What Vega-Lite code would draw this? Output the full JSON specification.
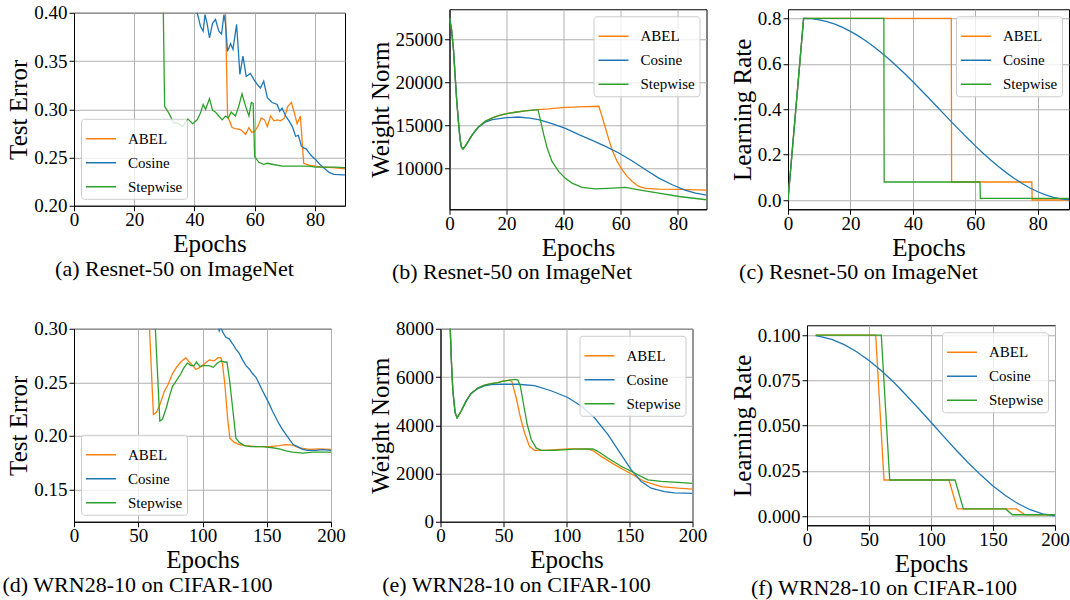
{
"$schema": "https://vega.github.io/schema/vega-lite/v6.json",
"padding": {"left": 1, "top": 3, "right": 0, "bottom": 0},
"background": "white",
"config": {
 "font": "Liberation Serif",
 "view": {"stroke": "black", "strokeWidth": 1},
 "axis": {"labelFont": "Liberation Serif", "labelFontSize": 19, "labelColor": "black", "titleFont": "Liberation Serif", "titleFontSize": 25, "titleFontWeight": "normal", "titleColor": "black", "tickColor": "black", "tickSize": 5, "domainColor": "black", "gridColor": "#b0b0b0", "gridWidth": 1, "labelPadding": 2, "titlePadding": 4, "labelFlush": false, "labelOverlap": false},
 "axisX": {"labelPadding": 0, "titlePadding": 2},
 "axisY": {"titlePadding": 2},
 "legend": {"labelFont": "Liberation Serif", "labelFontSize": 15, "labelColor": "black", "symbolType": "stroke", "symbolSize": 900, "symbolStrokeWidth": 1.5, "labelOffset": 11, "rowPadding": -12, "padding": 4, "strokeColor": "#cccccc", "fillColor": "rgba(255,255,255,0.8)", "cornerRadius": 3, "offset": 7},
 "title": {"font": "Liberation Serif", "fontSize": 22, "fontWeight": "normal", "color": "black", "offset": 2}
},
"datasets": {
 "a": [
  {"s":"ABEL","x":0,"y":0.9},{"s":"ABEL","x":20,"y":0.6},{"s":"ABEL","x":40,"y":0.5},{"s":"ABEL","x":50,"y":0.45},{"s":"ABEL","x":51,"y":0.293},{"s":"ABEL","x":52.5,"y":0.281},{"s":"ABEL","x":53.6,"y":0.28},{"s":"ABEL","x":55.3,"y":0.279},{"s":"ABEL","x":57,"y":0.274},{"s":"ABEL","x":58.1,"y":0.281},{"s":"ABEL","x":59,"y":0.276},{"s":"ABEL","x":60,"y":0.277},{"s":"ABEL","x":61.1,"y":0.2825},{"s":"ABEL","x":62.2,"y":0.291},{"s":"ABEL","x":63.3,"y":0.289},{"s":"ABEL","x":64.2,"y":0.282},{"s":"ABEL","x":65.3,"y":0.293},{"s":"ABEL","x":66.4,"y":0.288},{"s":"ABEL","x":67.5,"y":0.289},{"s":"ABEL","x":68.6,"y":0.288},{"s":"ABEL","x":69.9,"y":0.291},{"s":"ABEL","x":71,"y":0.303},{"s":"ABEL","x":72.2,"y":0.307},{"s":"ABEL","x":73.2,"y":0.296},{"s":"ABEL","x":74.1,"y":0.285},{"s":"ABEL","x":75.2,"y":0.293},{"s":"ABEL","x":75.8,"y":0.265},{"s":"ABEL","x":76.3,"y":0.244},{"s":"ABEL","x":78,"y":0.242},{"s":"ABEL","x":80.2,"y":0.241},{"s":"ABEL","x":82.4,"y":0.24},{"s":"ABEL","x":85.8,"y":0.2395},{"s":"ABEL","x":89.3,"y":0.2385},{"s":"ABEL","x":90,"y":0.2385},
  {"s":"Cosine","x":0,"y":0.9},{"s":"Cosine","x":20,"y":0.6},{"s":"Cosine","x":35,"y":0.47},{"s":"Cosine","x":40,"y":0.43},{"s":"Cosine","x":40.9,"y":0.4},{"s":"Cosine","x":42,"y":0.386},{"s":"Cosine","x":42.9,"y":0.381},{"s":"Cosine","x":43.5,"y":0.398},{"s":"Cosine","x":44.2,"y":0.389},{"s":"Cosine","x":45,"y":0.374},{"s":"Cosine","x":46,"y":0.389},{"s":"Cosine","x":47,"y":0.393},{"s":"Cosine","x":48.1,"y":0.381},{"s":"Cosine","x":49,"y":0.378},{"s":"Cosine","x":49.8,"y":0.398},{"s":"Cosine","x":50.3,"y":0.389},{"s":"Cosine","x":51,"y":0.36},{"s":"Cosine","x":52,"y":0.368},{"s":"Cosine","x":52.8,"y":0.362},{"s":"Cosine","x":54,"y":0.388},{"s":"Cosine","x":55.1,"y":0.336},{"s":"Cosine","x":56.1,"y":0.355},{"s":"Cosine","x":57.2,"y":0.334},{"s":"Cosine","x":58.6,"y":0.337},{"s":"Cosine","x":59.7,"y":0.331},{"s":"Cosine","x":60.8,"y":0.326},{"s":"Cosine","x":61.9,"y":0.322},{"s":"Cosine","x":63,"y":0.329},{"s":"Cosine","x":64.2,"y":0.312},{"s":"Cosine","x":65.8,"y":0.307},{"s":"Cosine","x":67.5,"y":0.305},{"s":"Cosine","x":68.3,"y":0.298},{"s":"Cosine","x":69.1,"y":0.301},{"s":"Cosine","x":70.3,"y":0.293},{"s":"Cosine","x":71.4,"y":0.288},{"s":"Cosine","x":72.5,"y":0.282},{"s":"Cosine","x":73.6,"y":0.272},{"s":"Cosine","x":74.5,"y":0.273},{"s":"Cosine","x":75.5,"y":0.262},{"s":"Cosine","x":76.3,"y":0.26},{"s":"Cosine","x":77.1,"y":0.259},{"s":"Cosine","x":78,"y":0.255},{"s":"Cosine","x":79.1,"y":0.251},{"s":"Cosine","x":80.2,"y":0.248},{"s":"Cosine","x":81.3,"y":0.244},{"s":"Cosine","x":83,"y":0.239},{"s":"Cosine","x":84.7,"y":0.2345},{"s":"Cosine","x":86.3,"y":0.2325},{"s":"Cosine","x":89.3,"y":0.232},{"s":"Cosine","x":90,"y":0.232},
  {"s":"Stepwise","x":0,"y":0.9},{"s":"Stepwise","x":10,"y":0.6},{"s":"Stepwise","x":20,"y":0.52},{"s":"Stepwise","x":29.3,"y":0.48},{"s":"Stepwise","x":30.1,"y":0.303},{"s":"Stepwise","x":31.5,"y":0.296},{"s":"Stepwise","x":33.1,"y":0.286},{"s":"Stepwise","x":34.8,"y":0.285},{"s":"Stepwise","x":36.1,"y":0.282},{"s":"Stepwise","x":37.8,"y":0.29},{"s":"Stepwise","x":39.4,"y":0.285},{"s":"Stepwise","x":40.9,"y":0.289},{"s":"Stepwise","x":42,"y":0.296},{"s":"Stepwise","x":42.9,"y":0.305},{"s":"Stepwise","x":43.7,"y":0.3},{"s":"Stepwise","x":45,"y":0.311},{"s":"Stepwise","x":46,"y":0.299},{"s":"Stepwise","x":47,"y":0.297},{"s":"Stepwise","x":48.1,"y":0.293},{"s":"Stepwise","x":49.2,"y":0.289},{"s":"Stepwise","x":50.3,"y":0.293},{"s":"Stepwise","x":51.2,"y":0.291},{"s":"Stepwise","x":52.2,"y":0.297},{"s":"Stepwise","x":53.6,"y":0.293},{"s":"Stepwise","x":54.7,"y":0.303},{"s":"Stepwise","x":55.8,"y":0.316},{"s":"Stepwise","x":57,"y":0.303},{"s":"Stepwise","x":58.1,"y":0.293},{"s":"Stepwise","x":58.9,"y":0.307},{"s":"Stepwise","x":59.5,"y":0.306},{"s":"Stepwise","x":60,"y":0.251},{"s":"Stepwise","x":61.4,"y":0.245},{"s":"Stepwise","x":63,"y":0.243},{"s":"Stepwise","x":64.2,"y":0.244},{"s":"Stepwise","x":65.8,"y":0.243},{"s":"Stepwise","x":69.1,"y":0.241},{"s":"Stepwise","x":75.8,"y":0.241},{"s":"Stepwise","x":78,"y":0.241},{"s":"Stepwise","x":80.2,"y":0.24},{"s":"Stepwise","x":83.5,"y":0.24},{"s":"Stepwise","x":86.9,"y":0.24},{"s":"Stepwise","x":89.3,"y":0.2395},{"s":"Stepwise","x":90,"y":0.2395}
 ],
 "b": [
  {"s":"ABEL","x":0,"y":27500},{"s":"ABEL","x":0.7,"y":26200},{"s":"ABEL","x":1.4,"y":23800},{"s":"ABEL","x":2,"y":20600},{"s":"ABEL","x":2.6,"y":17600},{"s":"ABEL","x":3.2,"y":15200},{"s":"ABEL","x":3.7,"y":13400},{"s":"ABEL","x":4.2,"y":12500},{"s":"ABEL","x":4.7,"y":12300},{"s":"ABEL","x":5.5,"y":12600},{"s":"ABEL","x":6.5,"y":13150},{"s":"ABEL","x":8,"y":13950},{"s":"ABEL","x":10,"y":14800},{"s":"ABEL","x":12.5,"y":15500},{"s":"ABEL","x":15,"y":15900},{"s":"ABEL","x":17.5,"y":16200},{"s":"ABEL","x":20,"y":16400},{"s":"ABEL","x":23,"y":16550},{"s":"ABEL","x":26.5,"y":16720},{"s":"ABEL","x":31,"y":16860},{"s":"ABEL","x":34.7,"y":16940},{"s":"ABEL","x":39.4,"y":17090},{"s":"ABEL","x":45.3,"y":17170},{"s":"ABEL","x":52.3,"y":17250},{"s":"ABEL","x":53.4,"y":16090},{"s":"ABEL","x":54.6,"y":14730},{"s":"ABEL","x":55.8,"y":13370},{"s":"ABEL","x":57,"y":12130},{"s":"ABEL","x":58.7,"y":10850},{"s":"ABEL","x":60.5,"y":9880},{"s":"ABEL","x":62.2,"y":9110},{"s":"ABEL","x":64,"y":8530},{"s":"ABEL","x":66.3,"y":7940},{"s":"ABEL","x":68.7,"y":7710},{"s":"ABEL","x":73.3,"y":7630},{"s":"ABEL","x":80.4,"y":7600},{"s":"ABEL","x":90,"y":7520},
  {"s":"Cosine","x":0,"y":27500},{"s":"Cosine","x":0.7,"y":26200},{"s":"Cosine","x":1.4,"y":23800},{"s":"Cosine","x":2,"y":20600},{"s":"Cosine","x":2.6,"y":17600},{"s":"Cosine","x":3.2,"y":15200},{"s":"Cosine","x":3.7,"y":13400},{"s":"Cosine","x":4.2,"y":12500},{"s":"Cosine","x":4.7,"y":12300},{"s":"Cosine","x":5.5,"y":12600},{"s":"Cosine","x":6.5,"y":13150},{"s":"Cosine","x":8,"y":13950},{"s":"Cosine","x":10,"y":14780},{"s":"Cosine","x":12.5,"y":15400},{"s":"Cosine","x":15,"y":15700},{"s":"Cosine","x":20,"y":15920},{"s":"Cosine","x":24,"y":16000},{"s":"Cosine","x":28,"y":15880},{"s":"Cosine","x":31.2,"y":15700},{"s":"Cosine","x":35.9,"y":15230},{"s":"Cosine","x":40.6,"y":14690},{"s":"Cosine","x":45.3,"y":13950},{"s":"Cosine","x":50,"y":13290},{"s":"Cosine","x":54.6,"y":12600},{"s":"Cosine","x":59.3,"y":11820},{"s":"Cosine","x":64,"y":10890},{"s":"Cosine","x":68.7,"y":9880},{"s":"Cosine","x":73.3,"y":8910},{"s":"Cosine","x":78,"y":8140},{"s":"Cosine","x":82.7,"y":7480},{"s":"Cosine","x":86.2,"y":7170},{"s":"Cosine","x":90,"y":6940},
  {"s":"Stepwise","x":0,"y":27500},{"s":"Stepwise","x":0.7,"y":26200},{"s":"Stepwise","x":1.4,"y":23800},{"s":"Stepwise","x":2,"y":20600},{"s":"Stepwise","x":2.6,"y":17600},{"s":"Stepwise","x":3.2,"y":15200},{"s":"Stepwise","x":3.7,"y":13400},{"s":"Stepwise","x":4.2,"y":12500},{"s":"Stepwise","x":4.7,"y":12300},{"s":"Stepwise","x":5.5,"y":12600},{"s":"Stepwise","x":6.5,"y":13150},{"s":"Stepwise","x":8,"y":13950},{"s":"Stepwise","x":10,"y":14800},{"s":"Stepwise","x":12.5,"y":15500},{"s":"Stepwise","x":15,"y":15900},{"s":"Stepwise","x":17.5,"y":16200},{"s":"Stepwise","x":20,"y":16400},{"s":"Stepwise","x":23,"y":16550},{"s":"Stepwise","x":26.5,"y":16720},{"s":"Stepwise","x":31,"y":16860},{"s":"Stepwise","x":31.8,"y":15700},{"s":"Stepwise","x":33,"y":13950},{"s":"Stepwise","x":34.2,"y":12400},{"s":"Stepwise","x":35.9,"y":10850},{"s":"Stepwise","x":38.2,"y":9690},{"s":"Stepwise","x":40.5,"y":8910},{"s":"Stepwise","x":42.9,"y":8330},{"s":"Stepwise","x":46.4,"y":7830},{"s":"Stepwise","x":51.1,"y":7670},{"s":"Stepwise","x":57,"y":7750},{"s":"Stepwise","x":61.7,"y":7830},{"s":"Stepwise","x":66.3,"y":7560},{"s":"Stepwise","x":73.3,"y":7170},{"s":"Stepwise","x":80.4,"y":6780},{"s":"Stepwise","x":90,"y":6400}
 ],
 "c": [
  {"s":"ABEL","x":0,"y":0},{"s":"ABEL","x":5,"y":0.8},{"s":"ABEL","x":52.3,"y":0.8},{"s":"ABEL","x":52.4,"y":0.08},{"s":"ABEL","x":78.1,"y":0.08},{"s":"ABEL","x":78.2,"y":0.0008},{"s":"ABEL","x":90,"y":0.0008},
  {"s":"Cosine","x":0,"y":0},{"s":"Cosine","x":5,"y":0.8},{"s":"Cosine","x":7.5,"y":0.7984},{"s":"Cosine","x":10,"y":0.7935},{"s":"Cosine","x":12.5,"y":0.7854},{"s":"Cosine","x":15,"y":0.7742},{"s":"Cosine","x":17.5,"y":0.7599},{"s":"Cosine","x":20,"y":0.7427},{"s":"Cosine","x":22.5,"y":0.7227},{"s":"Cosine","x":25,"y":0.7001},{"s":"Cosine","x":27.5,"y":0.6751},{"s":"Cosine","x":30,"y":0.6478},{"s":"Cosine","x":32.5,"y":0.6185},{"s":"Cosine","x":35,"y":0.5874},{"s":"Cosine","x":37.5,"y":0.5549},{"s":"Cosine","x":40,"y":0.5211},{"s":"Cosine","x":42.5,"y":0.486},{"s":"Cosine","x":45,"y":0.4505},{"s":"Cosine","x":47.5,"y":0.4144},{"s":"Cosine","x":50,"y":0.3784},{"s":"Cosine","x":52.5,"y":0.3424},{"s":"Cosine","x":55,"y":0.3069},{"s":"Cosine","x":57.5,"y":0.2723},{"s":"Cosine","x":60,"y":0.2387},{"s":"Cosine","x":62.5,"y":0.2063},{"s":"Cosine","x":65,"y":0.1759},{"s":"Cosine","x":67.5,"y":0.1467},{"s":"Cosine","x":70,"y":0.12},{"s":"Cosine","x":72.5,"y":0.0955},{"s":"Cosine","x":75,"y":0.0733},{"s":"Cosine","x":77.5,"y":0.0536},{"s":"Cosine","x":80,"y":0.0369},{"s":"Cosine","x":82.5,"y":0.0235},{"s":"Cosine","x":85,"y":0.0122},{"s":"Cosine","x":87.5,"y":0.0055},{"s":"Cosine","x":90,"y":0.0011},
  {"s":"Stepwise","x":0,"y":0},{"s":"Stepwise","x":5,"y":0.8},{"s":"Stepwise","x":30.7,"y":0.8},{"s":"Stepwise","x":30.8,"y":0.08},{"s":"Stepwise","x":61.5,"y":0.08},{"s":"Stepwise","x":61.6,"y":0.008},{"s":"Stepwise","x":90,"y":0.008}
 ],
 "d": [
  {"s":"ABEL","x":0,"y":0.9},{"s":"ABEL","x":40,"y":0.5},{"s":"ABEL","x":55,"y":0.4},{"s":"ABEL","x":58,"y":0.32},{"s":"ABEL","x":61.8,"y":0.22},{"s":"ABEL","x":64.2,"y":0.222},{"s":"ABEL","x":66.8,"y":0.229},{"s":"ABEL","x":70.1,"y":0.241},{"s":"ABEL","x":73.2,"y":0.248},{"s":"ABEL","x":76.6,"y":0.258},{"s":"ABEL","x":79.7,"y":0.264},{"s":"ABEL","x":83.1,"y":0.269},{"s":"ABEL","x":87,"y":0.273},{"s":"ABEL","x":89.6,"y":0.269},{"s":"ABEL","x":92.2,"y":0.266},{"s":"ABEL","x":94.8,"y":0.262},{"s":"ABEL","x":97.9,"y":0.264},{"s":"ABEL","x":101.3,"y":0.267},{"s":"ABEL","x":105.2,"y":0.271},{"s":"ABEL","x":109,"y":0.27},{"s":"ABEL","x":112.2,"y":0.273},{"s":"ABEL","x":114.3,"y":0.273},{"s":"ABEL","x":115.6,"y":0.267},{"s":"ABEL","x":117.4,"y":0.248},{"s":"ABEL","x":119.5,"y":0.217},{"s":"ABEL","x":121.3,"y":0.198},{"s":"ABEL","x":124.7,"y":0.194},{"s":"ABEL","x":128.6,"y":0.192},{"s":"ABEL","x":133.8,"y":0.191},{"s":"ABEL","x":141.6,"y":0.19},{"s":"ABEL","x":152,"y":0.19},{"s":"ABEL","x":159.7,"y":0.191},{"s":"ABEL","x":164.9,"y":0.192},{"s":"ABEL","x":170.1,"y":0.1915},{"s":"ABEL","x":175.3,"y":0.189},{"s":"ABEL","x":183.1,"y":0.1875},{"s":"ABEL","x":190.9,"y":0.188},{"s":"ABEL","x":200,"y":0.1875},
  {"s":"Cosine","x":0,"y":0.9},{"s":"Cosine","x":50,"y":0.6},{"s":"Cosine","x":100,"y":0.36},{"s":"Cosine","x":110,"y":0.315},{"s":"Cosine","x":113,"y":0.298},{"s":"Cosine","x":114.3,"y":0.302},{"s":"Cosine","x":115.6,"y":0.297},{"s":"Cosine","x":118.2,"y":0.292},{"s":"Cosine","x":120.8,"y":0.2906},{"s":"Cosine","x":123.4,"y":0.286},{"s":"Cosine","x":126,"y":0.281},{"s":"Cosine","x":128.6,"y":0.277},{"s":"Cosine","x":131.2,"y":0.271},{"s":"Cosine","x":133.8,"y":0.2656},{"s":"Cosine","x":136.4,"y":0.2625},{"s":"Cosine","x":139,"y":0.258},{"s":"Cosine","x":141.6,"y":0.2547},{"s":"Cosine","x":144.2,"y":0.2484},{"s":"Cosine","x":146.8,"y":0.242},{"s":"Cosine","x":149.4,"y":0.236},{"s":"Cosine","x":152,"y":0.2297},{"s":"Cosine","x":154.5,"y":0.223},{"s":"Cosine","x":157.1,"y":0.217},{"s":"Cosine","x":159.7,"y":0.211},{"s":"Cosine","x":162.3,"y":0.206},{"s":"Cosine","x":164.9,"y":0.2016},{"s":"Cosine","x":167.5,"y":0.197},{"s":"Cosine","x":170.6,"y":0.192},{"s":"Cosine","x":174,"y":0.19},{"s":"Cosine","x":177.9,"y":0.1875},{"s":"Cosine","x":181.8,"y":0.1866},{"s":"Cosine","x":188.3,"y":0.1866},{"s":"Cosine","x":193.5,"y":0.1872},{"s":"Cosine","x":200,"y":0.1866},
  {"s":"Stepwise","x":0,"y":0.9},{"s":"Stepwise","x":40,"y":0.5},{"s":"Stepwise","x":55,"y":0.42},{"s":"Stepwise","x":62.5,"y":0.32},{"s":"Stepwise","x":66.8,"y":0.214},{"s":"Stepwise","x":68.8,"y":0.2156},{"s":"Stepwise","x":71.9,"y":0.2266},{"s":"Stepwise","x":74,"y":0.236},{"s":"Stepwise","x":76.6,"y":0.246},{"s":"Stepwise","x":79.7,"y":0.2516},{"s":"Stepwise","x":83.1,"y":0.258},{"s":"Stepwise","x":85.7,"y":0.264},{"s":"Stepwise","x":88.3,"y":0.268},{"s":"Stepwise","x":90.9,"y":0.2656},{"s":"Stepwise","x":93.5,"y":0.2656},{"s":"Stepwise","x":95.3,"y":0.269},{"s":"Stepwise","x":97.9,"y":0.265},{"s":"Stepwise","x":101.3,"y":0.2656},{"s":"Stepwise","x":105.2,"y":0.2656},{"s":"Stepwise","x":108.3,"y":0.264},{"s":"Stepwise","x":111.7,"y":0.268},{"s":"Stepwise","x":114.3,"y":0.27},{"s":"Stepwise","x":116.9,"y":0.269},{"s":"Stepwise","x":119,"y":0.269},{"s":"Stepwise","x":120.8,"y":0.2547},{"s":"Stepwise","x":123.4,"y":0.2266},{"s":"Stepwise","x":126,"y":0.198},{"s":"Stepwise","x":128.6,"y":0.194},{"s":"Stepwise","x":132.5,"y":0.191},{"s":"Stepwise","x":137.7,"y":0.19},{"s":"Stepwise","x":146.8,"y":0.19},{"s":"Stepwise","x":154.5,"y":0.189},{"s":"Stepwise","x":159.7,"y":0.188},{"s":"Stepwise","x":164.9,"y":0.186},{"s":"Stepwise","x":170.1,"y":0.185},{"s":"Stepwise","x":177.9,"y":0.184},{"s":"Stepwise","x":185.7,"y":0.185},{"s":"Stepwise","x":193.5,"y":0.185},{"s":"Stepwise","x":200,"y":0.185}
 ],
 "e": [
  {"s":"ABEL","x":0,"y":14000},{"s":"ABEL","x":5,"y":10500},{"s":"ABEL","x":7,"y":9200},{"s":"ABEL","x":8.5,"y":6820},{"s":"ABEL","x":9.8,"y":5430},{"s":"ABEL","x":11.6,"y":4520},{"s":"ABEL","x":13.2,"y":4310},{"s":"ABEL","x":16.4,"y":4590},{"s":"ABEL","x":20.4,"y":5010},{"s":"ABEL","x":24.3,"y":5320},{"s":"ABEL","x":29.6,"y":5540},{"s":"ABEL","x":34.9,"y":5660},{"s":"ABEL","x":40.2,"y":5730},{"s":"ABEL","x":45.5,"y":5770},{"s":"ABEL","x":48.1,"y":5820},{"s":"ABEL","x":54.8,"y":5870},{"s":"ABEL","x":56.6,"y":5820},{"s":"ABEL","x":60,"y":5150},{"s":"ABEL","x":63.5,"y":4310},{"s":"ABEL","x":66.7,"y":3690},{"s":"ABEL","x":70.6,"y":3130},{"s":"ABEL","x":74.6,"y":2960},{"s":"ABEL","x":82.5,"y":2960},{"s":"ABEL","x":101,"y":3020},{"s":"ABEL","x":116.9,"y":3020},{"s":"ABEL","x":120.9,"y":2950},{"s":"ABEL","x":127.5,"y":2710},{"s":"ABEL","x":138.1,"y":2370},{"s":"ABEL","x":150,"y":2020},{"s":"ABEL","x":161.9,"y":1670},{"s":"ABEL","x":175.1,"y":1460},{"s":"ABEL","x":188.4,"y":1390},{"s":"ABEL","x":200,"y":1350},
  {"s":"Cosine","x":0,"y":14000},{"s":"Cosine","x":5,"y":10500},{"s":"Cosine","x":7,"y":9200},{"s":"Cosine","x":8.5,"y":6820},{"s":"Cosine","x":9.8,"y":5430},{"s":"Cosine","x":11.6,"y":4520},{"s":"Cosine","x":13.2,"y":4310},{"s":"Cosine","x":16.4,"y":4590},{"s":"Cosine","x":20.4,"y":5010},{"s":"Cosine","x":24.3,"y":5320},{"s":"Cosine","x":29.6,"y":5520},{"s":"Cosine","x":34.9,"y":5630},{"s":"Cosine","x":40.2,"y":5680},{"s":"Cosine","x":48,"y":5700},{"s":"Cosine","x":61.4,"y":5700},{"s":"Cosine","x":74.6,"y":5640},{"s":"Cosine","x":87.8,"y":5430},{"s":"Cosine","x":101,"y":5150},{"s":"Cosine","x":111.6,"y":4800},{"s":"Cosine","x":122.2,"y":4310},{"s":"Cosine","x":132.8,"y":3620},{"s":"Cosine","x":143.4,"y":2780},{"s":"Cosine","x":151.3,"y":2160},{"s":"Cosine","x":159.3,"y":1670},{"s":"Cosine","x":167.2,"y":1390},{"s":"Cosine","x":177.8,"y":1250},{"s":"Cosine","x":185.7,"y":1200},{"s":"Cosine","x":200,"y":1180},
  {"s":"Stepwise","x":0,"y":14000},{"s":"Stepwise","x":5,"y":10500},{"s":"Stepwise","x":7,"y":9200},{"s":"Stepwise","x":8.5,"y":6820},{"s":"Stepwise","x":9.8,"y":5430},{"s":"Stepwise","x":11.6,"y":4520},{"s":"Stepwise","x":13.2,"y":4310},{"s":"Stepwise","x":16.4,"y":4590},{"s":"Stepwise","x":20.4,"y":5010},{"s":"Stepwise","x":24.3,"y":5320},{"s":"Stepwise","x":29.6,"y":5540},{"s":"Stepwise","x":34.9,"y":5660},{"s":"Stepwise","x":40.2,"y":5730},{"s":"Stepwise","x":45.5,"y":5770},{"s":"Stepwise","x":50,"y":5830},{"s":"Stepwise","x":55,"y":5870},{"s":"Stepwise","x":59.3,"y":5900},{"s":"Stepwise","x":61.4,"y":5870},{"s":"Stepwise","x":63.3,"y":5640},{"s":"Stepwise","x":65.9,"y":4870},{"s":"Stepwise","x":68.8,"y":4040},{"s":"Stepwise","x":72,"y":3410},{"s":"Stepwise","x":75.9,"y":3060},{"s":"Stepwise","x":79.9,"y":2960},{"s":"Stepwise","x":90.5,"y":2960},{"s":"Stepwise","x":106.3,"y":3010},{"s":"Stepwise","x":120.9,"y":3020},{"s":"Stepwise","x":124.9,"y":2920},{"s":"Stepwise","x":132.8,"y":2640},{"s":"Stepwise","x":143.4,"y":2300},{"s":"Stepwise","x":153.9,"y":2020},{"s":"Stepwise","x":164.6,"y":1740},{"s":"Stepwise","x":175.1,"y":1670},{"s":"Stepwise","x":188.4,"y":1630},{"s":"Stepwise","x":200,"y":1590}
 ],
 "f": [
  {"s":"ABEL","x":7,"y":0.1},{"s":"ABEL","x":55.4,"y":0.1},{"s":"ABEL","x":62.1,"y":0.02},{"s":"ABEL","x":114.5,"y":0.02},{"s":"ABEL","x":121.2,"y":0.004},{"s":"ABEL","x":168.8,"y":0.004},{"s":"ABEL","x":175.8,"y":0.0008},{"s":"ABEL","x":200,"y":0.0008},
  {"s":"Cosine","x":7,"y":0.09971},{"s":"Cosine","x":10,"y":0.09941},{"s":"Cosine","x":20,"y":0.09767},{"s":"Cosine","x":30,"y":0.09481},{"s":"Cosine","x":40,"y":0.0909},{"s":"Cosine","x":50,"y":0.08603},{"s":"Cosine","x":60,"y":0.08034},{"s":"Cosine","x":70,"y":0.07396},{"s":"Cosine","x":80,"y":0.06684},{"s":"Cosine","x":90,"y":0.05953},{"s":"Cosine","x":100,"y":0.05192},{"s":"Cosine","x":110,"y":0.04427},{"s":"Cosine","x":120,"y":0.03675},{"s":"Cosine","x":130,"y":0.02956},{"s":"Cosine","x":140,"y":0.02285},{"s":"Cosine","x":150,"y":0.01674},{"s":"Cosine","x":160,"y":0.01139},{"s":"Cosine","x":170,"y":0.00699},{"s":"Cosine","x":180,"y":0.00357},{"s":"Cosine","x":190,"y":0.0013},{"s":"Cosine","x":200,"y":0.00015},
  {"s":"Stepwise","x":7,"y":0.1},{"s":"Stepwise","x":59.9,"y":0.1},{"s":"Stepwise","x":66.7,"y":0.02},{"s":"Stepwise","x":119.4,"y":0.02},{"s":"Stepwise","x":126.1,"y":0.004},{"s":"Stepwise","x":160.2,"y":0.004},{"s":"Stepwise","x":165.6,"y":0.0008},{"s":"Stepwise","x":200,"y":0.0008}
 ]
},
"vconcat": [
 {"hconcat": [
  {"width": 271, "height": 193, "data": {"name": "a"},
   "title": {"text": "(a) Resnet-50 on ImageNet", "orient": "bottom", "anchor": "middle", "frame": "group", "dx": -35},
   "mark": {"type": "line", "clip": true, "strokeWidth": 1.3},
   "encoding": {
    "x": {"field": "x", "type": "quantitative", "scale": {"domain": [0, 90], "nice": false, "zero": false}, "axis": {"values": [0, 20, 40, 60, 80], "title": "Epochs"}},
    "y": {"field": "y", "type": "quantitative", "scale": {"domain": [0.2, 0.4], "nice": false, "zero": false}, "axis": {"values": [0.2, 0.25, 0.3, 0.35, 0.4], "format": ".2f", "title": "Test Error"}},
    "color": {"field": "s", "type": "nominal", "scale": {"domain": ["ABEL", "Cosine", "Stepwise"], "range": ["#ff7f0e", "#1f77b4", "#2ca02c"]}, "legend": {"title": null, "orient": "bottom-left"}}
   }},
  {"width": 257, "height": 200, "data": {"name": "b"},
   "title": {"text": "(b) Resnet-50 on ImageNet", "orient": "bottom", "anchor": "middle", "frame": "group", "dx": -66},
   "mark": {"type": "line", "clip": true, "strokeWidth": 1.3},
   "encoding": {
    "x": {"field": "x", "type": "quantitative", "scale": {"domain": [0, 90], "nice": false, "zero": false}, "axis": {"values": [0, 20, 40, 60, 80], "title": "Epochs"}},
    "y": {"field": "y", "type": "quantitative", "scale": {"domain": [5300, 28500], "nice": false, "zero": false}, "axis": {"values": [10000, 15000, 20000, 25000], "format": "d", "title": "Weight Norm"}},
    "color": {"field": "s", "type": "nominal", "scale": {"domain": ["ABEL", "Cosine", "Stepwise"], "range": ["#ff7f0e", "#1f77b4", "#2ca02c"]}, "legend": {"title": null, "orient": "top-right"}}
   }},
  {"width": 281, "height": 200, "data": {"name": "c"},
   "title": {"text": "(c) Resnet-50 on ImageNet", "orient": "bottom", "anchor": "middle", "frame": "group", "dx": -70},
   "mark": {"type": "line", "clip": true, "strokeWidth": 1.3},
   "encoding": {
    "x": {"field": "x", "type": "quantitative", "scale": {"domain": [0, 90], "nice": false, "zero": false}, "axis": {"values": [0, 20, 40, 60, 80], "title": "Epochs"}},
    "y": {"field": "y", "type": "quantitative", "scale": {"domain": [-0.04, 0.84], "nice": false, "zero": false}, "axis": {"values": [0, 0.2, 0.4, 0.6, 0.8], "format": ".1f", "title": "Learning Rate"}},
    "color": {"field": "s", "type": "nominal", "scale": {"domain": ["ABEL", "Cosine", "Stepwise"], "range": ["#ff7f0e", "#1f77b4", "#2ca02c"]}, "legend": {"title": null, "orient": "top-right"}}
   }}
 ], "spacing": 21.5, "center": true, "resolve": {"legend": {"color": "independent"}}},
 {"hconcat": [
  {"width": 257, "height": 193, "data": {"name": "d"},
   "title": {"text": "(d) WRN28-10 on CIFAR-100", "orient": "bottom", "anchor": "middle", "frame": "group", "dx": -65},
   "mark": {"type": "line", "clip": true, "strokeWidth": 1.3},
   "encoding": {
    "x": {"field": "x", "type": "quantitative", "scale": {"domain": [0, 200], "nice": false, "zero": false}, "axis": {"values": [0, 50, 100, 150, 200], "title": "Epochs"}},
    "y": {"field": "y", "type": "quantitative", "scale": {"domain": [0.12, 0.3], "nice": false, "zero": false}, "axis": {"values": [0.15, 0.2, 0.25, 0.3], "format": ".2f", "title": "Test Error"}},
    "color": {"field": "s", "type": "nominal", "scale": {"domain": ["ABEL", "Cosine", "Stepwise"], "range": ["#ff7f0e", "#1f77b4", "#2ca02c"]}, "legend": {"title": null, "orient": "bottom-left"}}
   }},
  {"width": 252, "height": 193, "data": {"name": "e"},
   "title": {"text": "(e) WRN28-10 on CIFAR-100", "orient": "bottom", "anchor": "middle", "frame": "group", "dx": -50},
   "mark": {"type": "line", "clip": true, "strokeWidth": 1.3},
   "encoding": {
    "x": {"field": "x", "type": "quantitative", "scale": {"domain": [0, 200], "nice": false, "zero": false}, "axis": {"values": [0, 50, 100, 150, 200], "title": "Epochs"}},
    "y": {"field": "y", "type": "quantitative", "scale": {"domain": [0, 8000], "nice": false, "zero": false}, "axis": {"values": [0, 2000, 4000, 6000, 8000], "format": "d", "title": "Weight Norm"}},
    "color": {"field": "s", "type": "nominal", "scale": {"domain": ["ABEL", "Cosine", "Stepwise"], "range": ["#ff7f0e", "#1f77b4", "#2ca02c"]}, "legend": {"title": null, "orient": "top-right"}}
   }},
  {"width": 248, "height": 200, "data": {"name": "f"},
   "title": {"text": "(f) WRN28-10 on CIFAR-100", "orient": "bottom", "anchor": "middle", "frame": "group", "dx": -47},
   "mark": {"type": "line", "clip": true, "strokeWidth": 1.3},
   "encoding": {
    "x": {"field": "x", "type": "quantitative", "scale": {"domain": [0, 200], "nice": false, "zero": false}, "axis": {"values": [0, 50, 100, 150, 200], "title": "Epochs"}},
    "y": {"field": "y", "type": "quantitative", "scale": {"domain": [-0.005, 0.1055], "nice": false, "zero": false}, "axis": {"values": [0, 0.025, 0.05, 0.075, 0.1], "format": ".3f", "title": "Learning Rate"}},
    "color": {"field": "s", "type": "nominal", "scale": {"domain": ["ABEL", "Cosine", "Stepwise"], "range": ["#ff7f0e", "#1f77b4", "#2ca02c"]}, "legend": {"title": null, "orient": "top-right"}}
   }}
 ], "spacing": 21.5, "center": true, "resolve": {"legend": {"color": "independent"}}}
],
"spacing": 35,
"resolve": {"legend": {"color": "independent"}}
}
